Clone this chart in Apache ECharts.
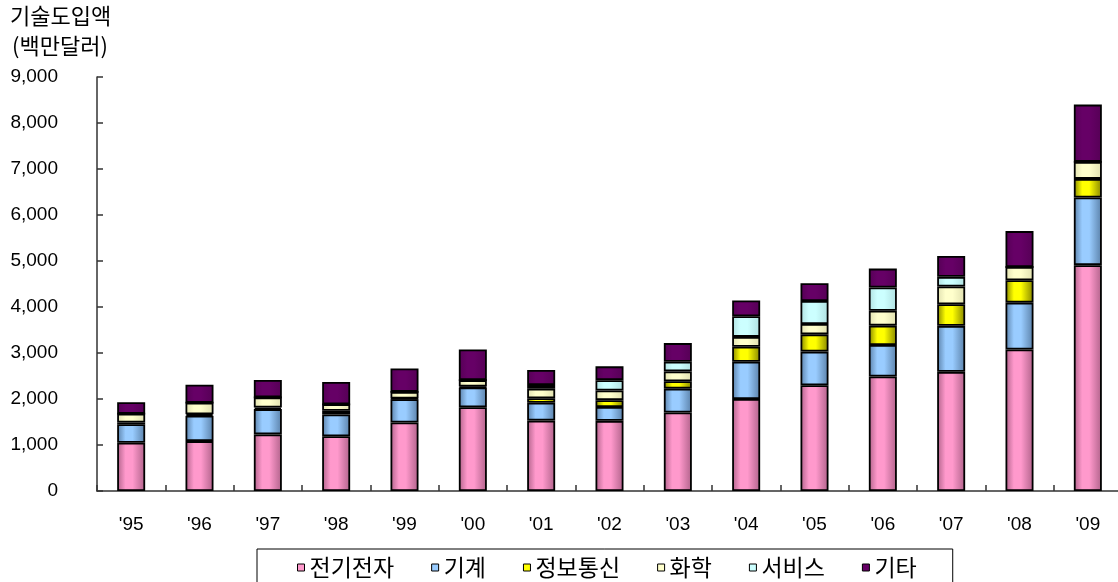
<!DOCTYPE html>
<html>
<head>
<meta charset="utf-8">
<script src="https://cdn.jsdelivr.net/npm/echarts@6/dist/echarts.min.js"></script>
<style>
  html, body { margin: 0; padding: 0; background: #fff; }
  #chart { width: 1118px; height: 582px; }
</style>
</head>
<body>
<div id="chart"></div>
<script>
// 연도별 기술도입액 (백만달러)
const years = ["'95", "'96", "'97", "'98", "'99", "'00", "'01", "'02", "'03", "'04", "'05", "'06", "'07", "'08", "'09"]
const names = ['전기전자', '기계', '정보통신', '화학', '서비스', '기타']
const elec = [1050, 1085, 1230, 1190, 1490, 1820, 1530, 1525, 1705, 2000, 2300, 2490, 2590, 3075, 4910]
const mach = [400, 550, 550, 475, 505, 430, 390, 300, 520, 810, 730, 685, 1000, 1020, 1470]
const info = [40, 35, 35, 80, 15, 20, 95, 150, 160, 325, 375, 420, 470, 485, 405]
const chem = [190, 250, 220, 140, 145, 140, 210, 210, 215, 215, 225, 325, 385, 290, 370]
const serv = [0, 0, 0, 0, 0, 0, 80, 225, 210, 450, 500, 505, 210, 0, 0]
const etc = [250, 390, 380, 485, 510, 665, 325, 300, 405, 340, 385, 410, 455, 780, 1245]
const yTicks = [0, 1000, 2000, 3000, 4000, 5000, 6000, 7000, 8000, 9000]

const seriesData = [elec, mach, info, chem, serv, etc]
const flat = ['#ff99cc', '#99ccff', '#ffff00', '#ffffcc', '#ccffff', '#660066']
const edge = ['#b0628a', '#5a80a8', '#858500', '#e0e0b0', '#b0e0e0', '#550055']

const KR = '"Noto Sans CJK KR", sans-serif'
const NUM = '"Liberation Sans", Arial, sans-serif'

// 막대 원통 느낌의 가로 그라데이션
function shade(i) {
  return new echarts.graphic.LinearGradient(0, 0, 1, 0, [
    { offset: 0, color: edge[i] },
    { offset: 0.3, color: flat[i] },
    { offset: 0.55, color: flat[i] },
    { offset: 1, color: edge[i] }
  ])
}

const chart = echarts.init(document.getElementById('chart'), null, { renderer: 'canvas' })

const seriesArr = names.map((n, i) => ({
  name: n,
  type: 'bar',
  stack: 'total',
  barWidth: 28,
  data: seriesData[i],
  itemStyle: {
    color: shade(i),
    borderColor: '#000',
    borderWidth: 1.8
  },
  emphasis: { disabled: true }
}))

chart.setOption({
  animation: false,
  backgroundColor: '#fff',
  grid: {
    left: 97,
    right: -4,
    top: 77,
    bottom: 91,
    outerBoundsMode: 'none'
  },
  graphic: [
    {
      type: 'text', left: 10, top: 5,
      style: { text: '기술도입액', font: '22px ' + KR, fill: '#000' }
    },
    {
      type: 'text', left: 12, top: 35,
      style: { text: '(백만달러)', font: '22px ' + KR, fill: '#000' }
    }
  ],
  legend: {
    left: 257,
    top: 549,
    padding: [7, 36, 20, 40],
    itemWidth: 7,
    itemHeight: 7,
    itemGap: 37,
    icon: 'rect',
    borderColor: '#000',
    borderWidth: 1,
    backgroundColor: '#fff',
    textStyle: { fontFamily: KR, fontSize: 23, color: '#000', lineHeight: 23 },
    data: names.map((n, i) => ({
      name: n,
      itemStyle: { color: flat[i], borderColor: '#000', borderWidth: 1 }
    }))
  },
  xAxis: {
    type: 'category',
    data: years,
    boundaryGap: true,
    axisLine: { lineStyle: { color: '#333', width: 1.5 } },
    axisTick: { show: true, inside: true, length: 6, alignWithLabel: false, lineStyle: { color: '#333', width: 1.5 } },
    axisLabel: { margin: 24, fontFamily: NUM, fontSize: 19, color: '#000', interval: 0 }
  },
  yAxis: {
    type: 'value',
    min: yTicks[0],
    max: yTicks[yTicks.length - 1],
    interval: 1000,
    splitLine: { show: false },
    axisLine: { show: true, lineStyle: { color: '#333', width: 1.5 } },
    axisTick: { show: true, inside: true, length: 6, lineStyle: { color: '#333', width: 1.5 } },
    axisLabel: {
      margin: 39,
      fontFamily: NUM,
      fontSize: 19,
      color: '#000',
      formatter: v => v.toLocaleString('en-US')
    }
  },
  series: seriesArr
})
</script>
</body>
</html>
